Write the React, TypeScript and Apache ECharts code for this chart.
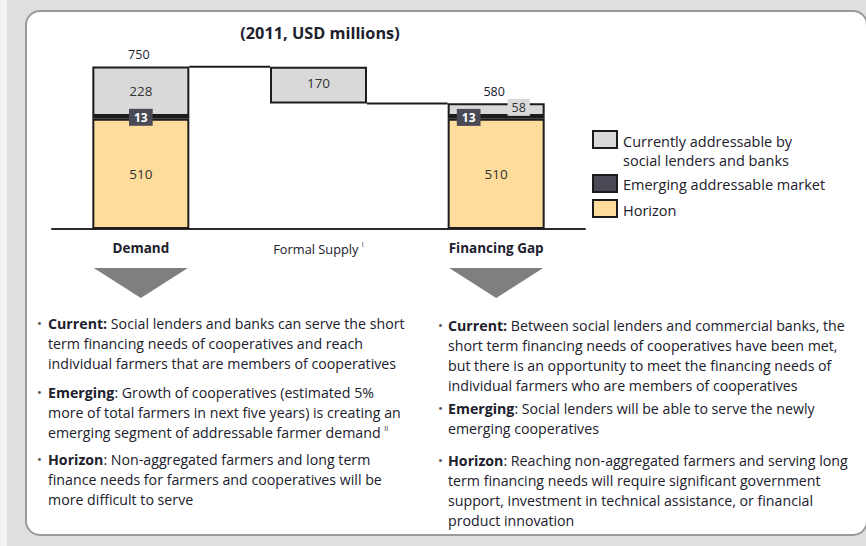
import React, { useEffect, useRef } from 'react';
import * as echarts from 'echarts';

const categories = ['Demand', 'Formal Supply', 'Financing Gap'];
const baseValues = [0, 580, 0];
const horizonValues = [510, 0, 510];
const emergingValues = [13, 0, 13];
const currentValues = [228, 170, 58];
const totalLabels = [750, null, 580];
const legendNames = ['Currently addressable by\nsocial lenders and banks', 'Emerging addressable market', 'Horizon'];
const title = '(2011, USD millions)';

const leftBullets = [
  '{b|Current:} Social lenders and banks can serve the short\nterm financing needs of cooperatives and reach\nindividual farmers that are members of cooperatives',
  '{b|Emerging}: Growth of cooperatives (estimated 5%\nmore of total farmers in next five years) is creating an\nemerging segment of addressable farmer demand {sup|II}',
  '{b|Horizon}: Non-aggregated farmers and long term\nfinance needs for farmers and cooperatives will be\nmore difficult to serve',
];
const rightBullets = [
  '{b|Current:} Between social lenders and commercial banks, the\nshort term financing needs of cooperatives have been met,\nbut there is an opportunity to meet the financing needs of\nindividual farmers who are members of cooperatives',
  '{b|Emerging}: Social lenders will be able to serve the newly\nemerging cooperatives',
  '{b|Horizon}: Reaching non-aggregated farmers and serving long\nterm financing needs will require significant government\nsupport, investment in technical assistance, or financial\nproduct innovation',
];

const FONT = 'Open Sans';
const TXT = '#20202c';
const C_CUR = '#d9d9d9';
const C_EMG = '#4a4a56';
const C_HOR = '#fddc9c';
const BORDER = '#1c1c1c';
const BODY = 14.2;

export default function App() {
  const ref = useRef<HTMLDivElement>(null);
  useEffect(() => {
    const chart = echarts.init(ref.current!, null, { renderer: 'svg' });
    const bw = 97;
    const hidden = (v: number) => v === 0;
    const option: any = {
      animation: false,
      backgroundColor: '#e0dfe0',
      grid: { left: 52, width: 533, top: 56, height: 173, containLabel: false },
      xAxis: {
        type: 'category',
        data: categories,
        axisLine: { lineStyle: { color: '#2a2a2a', width: 2 } },
        axisTick: { show: false },
        axisLabel: {
          interval: 0,
          margin: 12,
          formatter: (v: string) =>
            v === 'Formal Supply' ? '{n|Formal Supply} {sup|I}' : '{bb|' + v + '}',
          rich: {
            n: { fontFamily: FONT, fontSize: 12.8, color: TXT },
            bb: { fontFamily: FONT, fontSize: 13.5, fontWeight: 'bold', color: TXT },
            sup: { fontFamily: FONT, fontSize: 7, color: TXT, padding: [0, 0, 8, 0] },
          },
        },
      },
      yAxis: { type: 'value', min: 0, max: 800, show: false },
      series: [
        {
          name: 'base',
          type: 'bar',
          stack: 't',
          barWidth: bw,
          silent: true,
          itemStyle: { color: 'transparent', borderWidth: 0 },
          data: baseValues,
        },
        {
          name: 'Horizon',
          type: 'bar',
          stack: 't',
          barWidth: bw,
          itemStyle: { color: C_HOR, borderColor: BORDER, borderWidth: 2 },
          label: { show: true, position: 'inside', fontFamily: FONT, fontSize: 13.5, color: '#333' },
          data: horizonValues.map((v) => ({
            value: v,
            itemStyle: hidden(v) ? { borderWidth: 0 } : undefined,
            label: hidden(v) ? { show: false } : undefined,
          })),
        },
        {
          name: 'Emerging',
          type: 'bar',
          stack: 't',
          barWidth: bw,
          itemStyle: { color: C_EMG, borderColor: BORDER, borderWidth: 2 },
          label: {
            show: true,
            position: 'inside',
            fontFamily: FONT,
            fontSize: 12,
            fontWeight: 'bold',
            color: '#fff',
            backgroundColor: C_EMG,
            padding: [3, 5, 2, 5],
          },
          data: emergingValues.map((v, i) => ({
            value: v,
            itemStyle: hidden(v) ? { borderWidth: 0 } : undefined,
            label: hidden(v)
              ? { show: false }
              : i === 2
              ? { position: [21, 1.5], align: 'center', verticalAlign: 'middle' }
              : undefined,
          })),
        },
        {
          name: 'Current',
          type: 'bar',
          stack: 't',
          barWidth: bw,
          itemStyle: { color: C_CUR, borderColor: BORDER, borderWidth: 2 },
          label: { show: true, position: 'inside', fontFamily: FONT, fontSize: 13.5, color: '#333' },
          data: currentValues.map((v, i) => ({
            value: v,
            label:
              i === 2
                ? {
                    position: [71, 4],
                    align: 'center',
                    verticalAlign: 'middle',
                    backgroundColor: C_CUR,
                    padding: [2, 4],
                    fontSize: 12.5,
                  }
                : i === 1
                ? { position: 'inside', offset: [0, -2] }
                : undefined,
          })),
        },
      ],
    };
    chart.setOption(option);

    const px = (i: number, v: number) => chart.convertToPixel({ gridIndex: 0 }, [i, v]) as number[];
    const elements: any[] = [];
    elements.push({ type: 'rect', z: -100, shape: { x: 0, y: 0, width: 7, height: 546 }, style: { fill: '#f4f4f4' } });
    elements.push({
      type: 'rect',
      z: -99,
      shape: { x: 26, y: 11, width: 841, height: 524, r: 14 },
      style: { fill: '#ffffff', stroke: '#9a9a9a', lineWidth: 2 },
    });
    elements.push({
      type: 'text',
      z: 100,
      x: 320,
      y: 33,
      style: { text: title, fontFamily: FONT, fontSize: 16.3, fontWeight: 'bold', fill: TXT, align: 'center', verticalAlign: 'middle' },
    });
    totalLabels.forEach((t, i) => {
      if (t == null) return;
      const p = px(i, t);
      elements.push({
        type: 'text',
        z: 100,
        x: p[0] - 2,
        y: p[1] - 12,
        style: { text: String(t), fontFamily: FONT, fontSize: 12.5, fill: TXT, align: 'center', verticalAlign: 'middle' },
      });
    });
    const a = px(0, 750);
    const b = px(1, 750);
    elements.push({ type: 'line', z: 100, shape: { x1: a[0] + bw / 2, y1: a[1], x2: b[0] - bw / 2, y2: b[1] }, style: { stroke: BORDER, lineWidth: 2 } });
    const c = px(1, 580);
    const d = px(2, 580);
    elements.push({ type: 'line', z: 100, shape: { x1: c[0] + bw / 2, y1: c[1], x2: d[0] - bw / 2, y2: d[1] }, style: { stroke: BORDER, lineWidth: 2 } });
    [0, 2].forEach((i) => {
      const p = px(i, 0);
      elements.push({
        type: 'polygon',
        z: 100,
        shape: { points: [[p[0] - 47, 268], [p[0] + 47, 268], [p[0], 298]] },
        style: { fill: '#7f7f7f' },
      });
    });
    const legendColors = [C_CUR, C_EMG, C_HOR];
    const legendBoxY = [131, 175, 200];
    const legendTextY = [132, 175, 201];
    legendNames.forEach((n, i) => {
      elements.push({
        type: 'rect',
        z: 100,
        shape: { x: 593, y: legendBoxY[i], width: 24, height: 17 },
        style: { fill: legendColors[i], stroke: BORDER, lineWidth: 2 },
      });
      elements.push({
        type: 'text',
        z: 100,
        x: 623,
        y: legendTextY[i],
        style: { text: n, fontFamily: FONT, fontSize: 14.5, lineHeight: 19, fill: TXT, align: 'left', verticalAlign: 'top' },
      });
    });
    const rich = {
      b: { fontFamily: FONT, fontSize: BODY, fontWeight: 'bold', fill: TXT, lineHeight: 20 },
      sup: { fontFamily: FONT, fontSize: 7, fill: TXT, lineHeight: 20, padding: [0, 0, 8, 0] },
    };
    const addBlock = (txt: string, bx: number, tx: number, y: number) => {
      elements.push({
        type: 'text',
        z: 100,
        x: bx,
        y: y,
        style: { text: '•', fontFamily: FONT, fontSize: 13, fill: '#555', align: 'left', verticalAlign: 'middle' },
      });
      elements.push({
        type: 'text',
        z: 100,
        x: tx,
        y: y - 10,
        style: { text: txt, rich, fontFamily: FONT, fontSize: BODY, lineHeight: 20, fill: TXT, align: 'left', verticalAlign: 'top' },
      });
    };
    const leftY = [323, 392, 459];
    const rightY = [325, 408, 460];
    leftBullets.forEach((t, i) => addBlock(t, 37, 48, leftY[i]));
    rightBullets.forEach((t, i) => addBlock(t, 438, 448, rightY[i]));

    chart.setOption({ graphic: { elements } });
    return () => chart.dispose();
  }, []);
  return <div ref={ref} style={{ position: 'absolute', left: 0, top: 0, width: 866, height: 546 }} />;
}
